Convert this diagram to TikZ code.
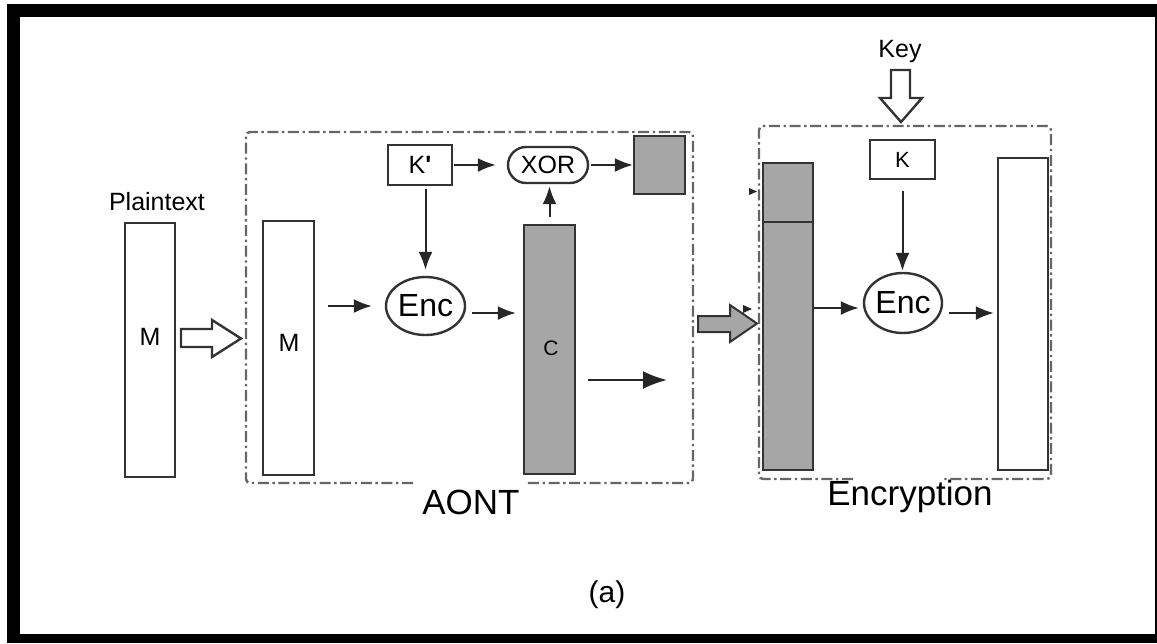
\documentclass[tikz,border=0pt]{standalone}
\usepackage{fontspec}
\setmainfont{Liberation Sans}
\usetikzlibrary{arrows.meta,shapes.geometric,shapes.misc}

\tikzset{
  blk/.style={draw=black!80, line width=1.2pt, inner sep=0pt, fill=white},
  gblk/.style={blk, fill=black!35},
  arr/.style={draw=black!85, line width=1pt, -{Latex[length=9pt,width=7pt]}},
  bigarr/.style={draw=black!85, line width=1.1pt, -{Latex[length=12pt,width=9pt]}},
  frm/.style={draw=black!60, line width=1.2pt, rounded corners=2pt,
    dash pattern=on 5.5pt off 1.8pt on 1.2pt off 1.8pt},
  ftxt/.style={font=\fontsize{12.5}{15}\selectfont},
  fbig/.style={font=\fontsize{17.5}{21}\selectfont},
}

\begin{document}
\begin{tikzpicture}[x=0.5pt, y=-0.5pt]
  \def\pxl{0.5pt}
  \useasboundingbox (0,0) rectangle (1157,643);

  % frame
  \fill[black] (7,4) rectangle (1157,643);
  \fill[white] (20,17) rectangle (1155,634);

  % plaintext
  \node[ftxt, anchor=base] (ptxt) at (157,210) {Plaintext};
  \node[blk, minimum width=50*\pxl, minimum height=254*\pxl] (plainM) at (150,350) {};
  \node[ftxt] (plainMl) at (150,337) {M};
  \draw[blk] (181,329) -- (212,329) -- (212,320) -- (241,338.5) -- (212,357)
    -- (212,347) -- (181,347) -- cycle;

  % AONT box (gap under the label)
  \draw[frm] (413,483) -- (246,483) -- (246,132) -- (693,132) -- (693,483) -- (525,483);
  \node[fbig, anchor=base] (aont) at (471,514) {AONT};

  \node[blk, minimum width=51*\pxl, minimum height=254*\pxl] (innerM) at (288.5,348) {};
  \node[ftxt] (innerMl) at (289,343) {M};
  \node[blk, minimum width=64*\pxl, minimum height=40*\pxl, ftxt] (kp) at (420,165) {K\textbf{\textquotesingle}};
  \node[blk, rounded rectangle, minimum width=80*\pxl, minimum height=36*\pxl, ftxt] (xorN) at (548,165) {XOR};
  \node[gblk, minimum width=51*\pxl, minimum height=58*\pxl] (sqA) at (659.5,165) {};
  \node[blk, ellipse, minimum width=79*\pxl, minimum height=58*\pxl,
    font=\fontsize{16}{19}\selectfont] (encA) at (425.5,306) {Enc};
  \node[gblk, minimum width=51*\pxl, minimum height=249*\pxl] (cCol) at (549.5,349.5) {};
  \node[font=\fontsize{10.5}{12}\selectfont] (cColl) at (551,348) {C};
  \coordinate (cOut) at (667,380);

  \draw[arr, shorten <=6.5pt, shorten >=6.5pt] (innerM.east |- encA.west) -- (encA.west);
  \draw[arr, shorten <=3pt, shorten >=3.5pt] ([yshift=-3.5pt]encA.east) -- ([yshift=-3.5pt]cCol.west |- encA.east);
  \draw[arr, shorten <=1.5pt, shorten >=3pt] (kp.south -| encA.north) -- (encA.north);
  \draw[arr, shorten <=0.5pt, shorten >=5.5pt] (kp.east) -- (xorN.west);
  \draw[arr, shorten <=1pt] (xorN.east) -- (sqA.west);
  \draw[arr, shorten <=3.5pt, shorten >=1pt] (cCol.north) -- (cCol.north |- xorN.south);
  \draw[bigarr, shorten <=6pt] (cCol.east |- cOut) -- (cOut);

  % gray block arrow and stray tips
  \draw[fill=black!35, draw=black!80, line width=1pt] (698,316) -- (730,316) -- (730,305)
    -- (757,323.5) -- (730,342) -- (730,332) -- (698,332) -- cycle;
  \fill[black!85] (749,188) -- (757,191.5) -- (749,195) -- cycle;
  \fill[black!85] (743,305) -- (752,309) -- (743,313) -- cycle;

  % Encryption box (gap under the label)
  \draw[frm] (853,479) -- (759,479) -- (759,126) -- (1051,126) -- (1051,479) -- (943,479);
  \node[fbig, anchor=base] (encr) at (910,505) {Encryption};

  \node[ftxt, anchor=base] (keyl) at (900,57) {Key};
  \draw[blk] (891,70) -- (910,70) -- (910,98) -- (922,98) -- (901,122) -- (880,98)
    -- (891,98) -- cycle;

  \node[gblk, minimum width=50*\pxl, minimum height=248*\pxl] (colBot) at (788,346) {};
  \node[gblk, minimum width=50*\pxl, minimum height=59*\pxl] (colTop) at (788,192.5) {};
  \node[blk, minimum width=65*\pxl, minimum height=39*\pxl, font=\fontsize{11}{13}\selectfont] (kB) at (902.5,159.5) {K};
  \node[blk, ellipse, minimum width=78*\pxl, minimum height=60*\pxl,
    font=\fontsize{16}{19}\selectfont] (encB) at (903,303) {Enc};
  \node[blk, minimum width=50*\pxl, minimum height=312*\pxl] (outB) at (1023,314) {};

  \draw[arr, shorten >=2pt] ([yshift=-2.5pt]colBot.east |- encB.west) -- ([yshift=-2.5pt]encB.west);
  \draw[arr, shorten <=3pt, shorten >=1.5pt] ([yshift=-5pt]encB.east) -- ([yshift=-5pt]outB.west |- encB.east);
  \draw[arr, shorten <=5.5pt, shorten >=0.5pt] (kB.south) -- (kB.south |- encB.north);

  \node[font=\fontsize{15}{18}\selectfont, anchor=base] (capA) at (607,602) {(a)};
\end{tikzpicture}
\end{document}
